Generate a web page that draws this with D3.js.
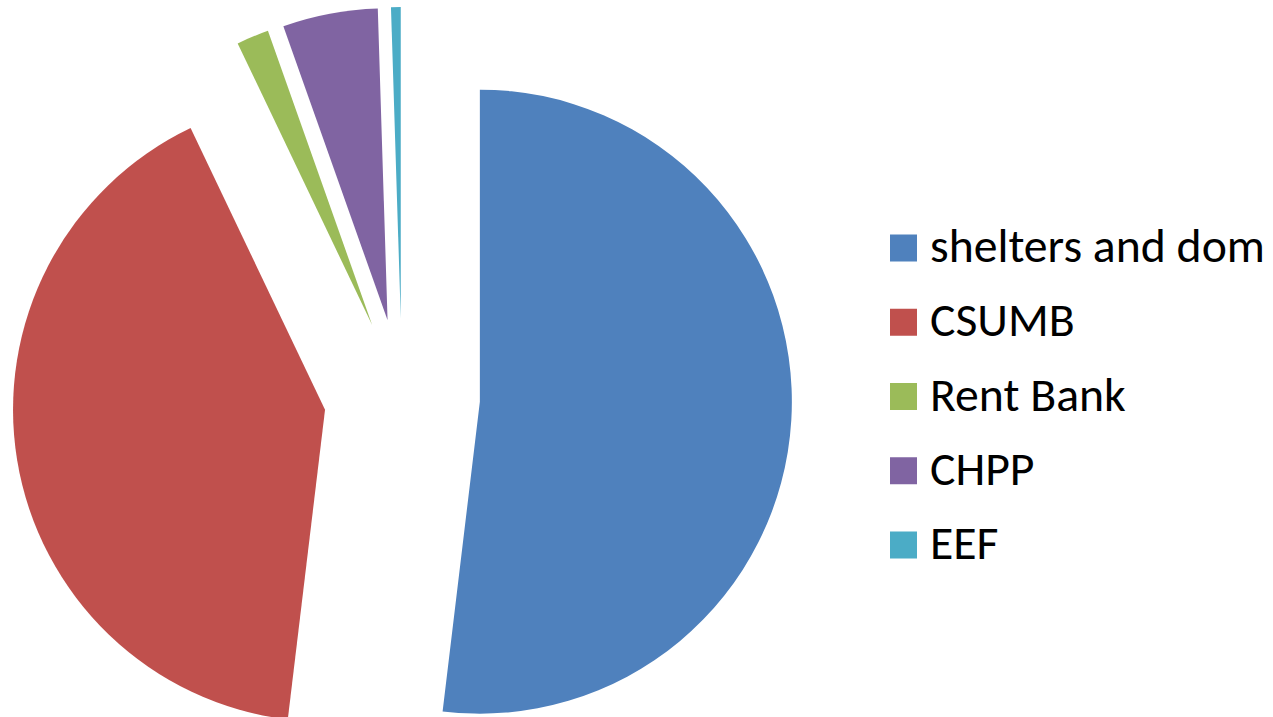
<!DOCTYPE html>
<html lang="en">
<head>
    <meta charset="UTF-8">
    <title>Pie</title>
    <script src="https://cdn.jsdelivr.net/npm/d3@7"></script>
    <style>
        body { margin: 0; background: #fff; }
        svg { display: block; }
        .legend-text { font-family: Carlito, 'Open Sans', 'Noto Sans', sans-serif; fill: #000; }
    </style>
</head>
<body>
    <svg width="1273" height="717"></svg>
    <script>
        // chart data
        const labels = ["shelters and dom", "CSUMB", "Rent Bank", "CHPP", "EEF"];
        const values = [51.9, 41.0, 1.67, 4.92, 0.5];
        const colors = ["#4F81BD", "#C0504D", "#9BBB59", "#8064A2", "#4BACC6"];

        const svg = d3.select("svg");
        const cx = 402, cy = 397, radius = 312, explode = 78;

        const pie = d3.pie().sort(null).value(d => d.value);
        const arc = d3.arc().innerRadius(0).outerRadius(radius);

        const data = labels.map((l, i) => ({ label: l, value: values[i], color: colors[i] }));

        const g = svg.append("g").attr("transform", `translate(${cx},${cy})`);
        g.selectAll("path")
            .data(pie(data))
            .enter()
            .append("path")
            .attr("transform", d => {
                const a = (d.startAngle + d.endAngle) / 2;
                return `translate(${Math.sin(a) * explode},${-Math.cos(a) * explode})`;
            })
            .attr("d", arc)
            .attr("fill", d => d.data.color);

        // legend
        const legend = svg.append("g").attr("transform", "translate(890,0)");
        const rowY = d3.scalePoint().domain(labels).range([248, 545]);

        legend.selectAll("rect")
            .data(data)
            .enter()
            .append("rect")
            .attr("x", 0)
            .attr("y", d => rowY(d.label) - 13.5)
            .attr("width", 27)
            .attr("height", 27)
            .attr("fill", d => d.color);

        const texts = legend.selectAll("text")
            .data(data)
            .enter()
            .append("text")
            .attr("class", "legend-text")
            .attr("x", 40)
            .attr("y", d => rowY(d.label) + 14)
            .style("font-size", "40px")
            .text(d => d.label);

        // fit font size so the longest label spans like the original
        const w = texts.nodes()[0].getComputedTextLength();
        const fs = 40 * 335 / w;
        texts.style("font-size", fs + "px");
    </script>
</body>
</html>
